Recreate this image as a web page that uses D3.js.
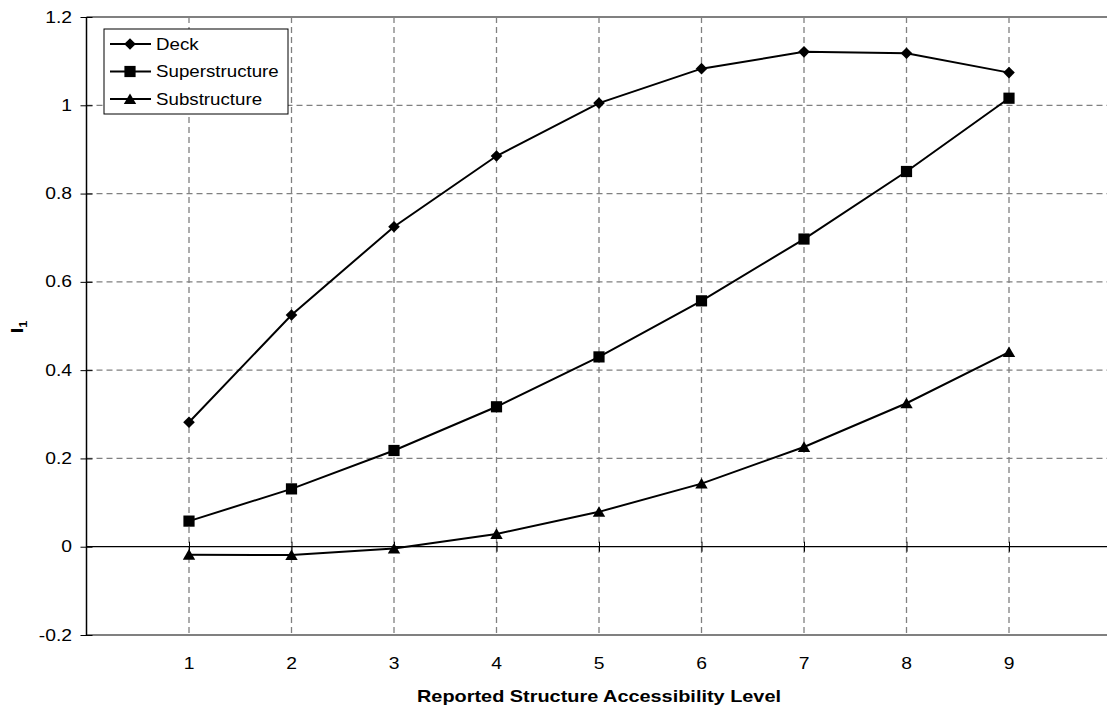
<!DOCTYPE html>
<html>
<head>
<meta charset="utf-8">
<script src="https://cdn.jsdelivr.net/npm/d3@7"></script>
<style>
  html, body { margin: 0; padding: 0; background: #fff; }
  svg { display: block; }
  text { font-family: Arial, "Liberation Sans", Helvetica, sans-serif; fill: #000; }
</style>
</head>
<body>
<svg id="chart" width="1107" height="711"></svg>
<script>
// Accessibility levels and index values per structural component
const levels = [1, 2, 3, 4, 5, 6, 7, 8, 9];
const deck = [0.282, 0.525, 0.725, 0.885, 1.005, 1.083, 1.121, 1.118, 1.074];
const superstructure = [0.058, 0.131, 0.218, 0.317, 0.430, 0.557, 0.697, 0.850, 1.016];
const substructure = [-0.018, -0.019, -0.004, 0.029, 0.079, 0.143, 0.226, 0.325, 0.441];
const yTicks = [-0.2, 0, 0.2, 0.4, 0.6, 0.8, 1, 1.2];
const seriesNames = ["Deck", "Superstructure", "Substructure"];
const seriesSymbols = ["diamond", "square", "triangle"];

const svg = d3.select("#chart");
const plotLeft = 86.5, plotRight = 1111.5, plotTop = 17, plotBottom = 635;
const SX = 1.17; // horizontal stretch of all lettering

const x = d3.scaleLinear().domain([0, 10]).range([plotLeft, plotRight]);
const y = d3.scaleLinear().domain([-0.2, 1.2]).range([plotBottom, plotTop]);

// stretched text helper
function label(g, px, py, str, opts) {
  const t = g.append("text")
    .attr("transform", `translate(${px},${py}) scale(${SX},1)`)
    .attr("font-size", opts.size || 16.5)
    .attr("text-anchor", opts.anchor || "start")
    .attr("dominant-baseline", opts.baseline || "central")
    .text(str);
  if (opts.bold) t.attr("font-weight", "bold");
  return t;
}

// marker shapes (centred on the data point)
const markerPath = {
  diamond: "M0,-5.8L5.8,0L0,5.8L-5.8,0Z",
  square: "M-5.6,-5.6H5.6V5.6H-5.6Z",
  triangle: "M0,-5.6L6.2,5L-6.2,5Z"
};

const root = svg.append("g");

// dashed grid
const grid = root.append("g")
  .attr("stroke", "#808080").attr("stroke-width", 1.3).attr("stroke-dasharray", "6,4");
grid.selectAll("line.v").data(levels).join("line")
  .attr("class", "v")
  .attr("x1", d => x(d)).attr("x2", d => x(d))
  .attr("y1", plotTop).attr("y2", plotBottom);
grid.selectAll("line.h").data(yTicks.filter(v => v !== 0 && v > -0.2 && v < 1.2)).join("line")
  .attr("class", "h")
  .attr("x1", plotLeft).attr("x2", plotRight)
  .attr("y1", d => y(d)).attr("y2", d => y(d));

// plot frame
root.append("line").attr("x1", plotLeft).attr("x2", plotRight).attr("y1", plotTop).attr("y2", plotTop)
  .attr("stroke", "#808080").attr("stroke-width", 2);
root.append("line").attr("x1", plotLeft).attr("x2", plotRight).attr("y1", plotBottom).attr("y2", plotBottom)
  .attr("stroke", "#808080").attr("stroke-width", 2);

// y axis
const yAxis = d3.axisLeft(y).tickValues(yTicks).tickSize(0).tickFormat(d3.format("~g"));
const yg = root.append("g").attr("transform", `translate(${plotLeft},0)`).call(yAxis);
yg.select(".domain").remove();
yg.selectAll(".tick text").remove();
yg.selectAll(".tick").append("line")
  .attr("x1", -6).attr("x2", 6).attr("stroke", "#000").attr("stroke-width", 1);
root.append("line").attr("x1", plotLeft).attr("x2", plotLeft).attr("y1", plotTop).attr("y2", plotBottom)
  .attr("stroke", "#000").attr("stroke-width", 1.5);
yTicks.forEach(v => label(root, 72, y(v), d3.format("~g")(v).replace("\u2212", "-"), { anchor: "end" }));

// x axis drawn at zero, labels along the bottom
const xAxis = d3.axisBottom(x).tickValues(levels).tickSize(0).tickFormat("");
const xg = root.append("g").attr("transform", `translate(0,${y(0)})`).call(xAxis);
xg.select(".domain").remove();
xg.selectAll(".tick").append("line")
  .attr("y1", -5).attr("y2", 5).attr("stroke", "#000").attr("stroke-width", 1);
root.append("line").attr("x1", plotLeft).attr("x2", plotRight).attr("y1", y(0)).attr("y2", y(0))
  .attr("stroke", "#000").attr("stroke-width", 1.2);
levels.forEach(v => label(root, x(v), 663, String(v), { anchor: "middle" }));

// axis titles
label(root, (plotLeft + plotRight) / 2, 696, "Reported Structure Accessibility Level",
  { anchor: "middle", bold: true, size: 17 });
const yt = root.append("text")
  .attr("transform", `translate(23,327) scale(1,${SX}) rotate(-90)`)
  .attr("text-anchor", "middle")
  .attr("font-weight", "bold").attr("font-size", 17);
yt.append("tspan").text("I");
yt.append("tspan").attr("font-size", 11).attr("dy", 4).text("1");

// series
const allSeries = [deck, superstructure, substructure];
const line = d3.line().x((d, i) => x(levels[i])).y(d => y(d));

allSeries.forEach((vals, si) => {
  const g = root.append("g");
  g.append("path").datum(vals).attr("d", line)
    .attr("fill", "none").attr("stroke", "#000").attr("stroke-width", 2);
  g.selectAll("path.m").data(vals).join("path")
    .attr("class", "m")
    .attr("transform", (d, i) => `translate(${x(levels[i])},${y(d)})`)
    .attr("d", markerPath[seriesSymbols[si]]).attr("fill", "#000");
});

// legend
const lg = root.append("g");
lg.append("rect").attr("x", 104).attr("y", 29).attr("width", 184).attr("height", 85)
  .attr("fill", "#fff").attr("stroke", "#000").attr("stroke-width", 1);
seriesNames.forEach((name, i) => {
  const cy = 44 + i * 27.5;
  lg.append("line").attr("x1", 110).attr("x2", 151).attr("y1", cy).attr("y2", cy)
    .attr("stroke", "#000").attr("stroke-width", 2);
  lg.append("path").attr("transform", `translate(130,${cy})`)
    .attr("d", markerPath[seriesSymbols[i]]).attr("fill", "#000");
  label(lg, 156, cy, name, { anchor: "start", size: 16 });
});
</script>
</body>
</html>
